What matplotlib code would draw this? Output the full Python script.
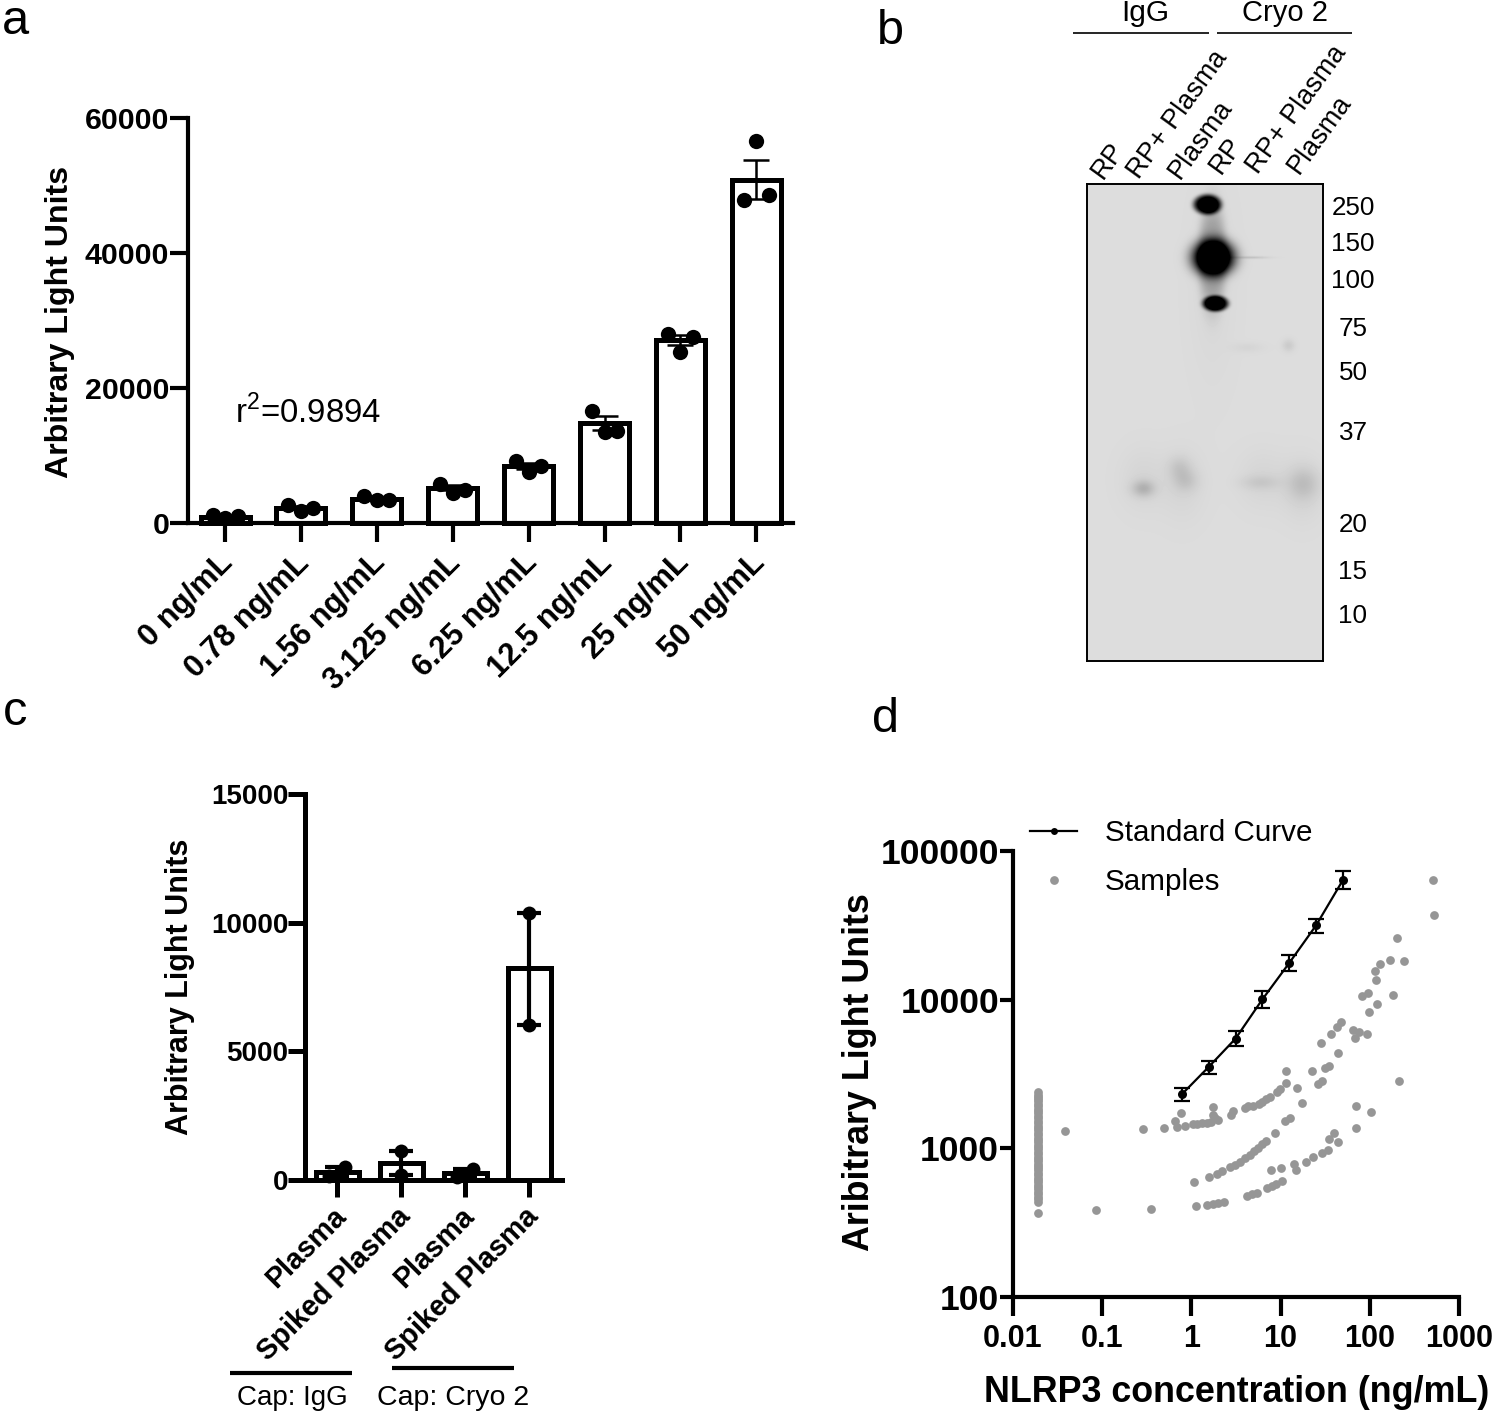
import numpy as np
import matplotlib
matplotlib.use("Agg")
import matplotlib.pyplot as plt
from matplotlib.lines import Line2D
from matplotlib.ticker import FixedLocator, NullLocator, FixedFormatter
from matplotlib.transforms import ScaledTranslation

plt.rcParams['font.family'] = ['Liberation Sans', 'DejaVu Sans']
plt.rcParams['mathtext.fontset'] = 'custom'
plt.rcParams['mathtext.rm'] = 'Liberation Sans'

W, H = 1495, 1415

# Panel a
a_labels = ['0 ng/mL', '0.78 ng/mL', '1.56 ng/mL', '3.125 ng/mL', '6.25 ng/mL', '12.5 ng/mL', '25 ng/mL', '50 ng/mL']
a_means = [890, 2270, 3600, 5190, 8450, 14820, 27070, 50880]
a_sem = [180, 250, 170, 370, 470, 1030, 740, 2900]
a_left = [1140, 2620, 3950, 5730, 9140, 16600, 27960, 47800]
a_mid = [790, 1780, 3360, 4450, 7560, 13490, 25340, 56600]
a_right = [990, 2270, 3360, 4940, 8450, 13630, 27560, 48560]
a_yticks = [0, 20000, 40000, 60000]

# Panel b
b_lanes = ['RP', 'RP+ Plasma', 'Plasma', 'RP', 'RP+ Plasma', 'Plasma']
b_groups = ['IgG', 'Cryo 2']
b_markers = ['250', '150', '100', '75', '50', '37', '20', '15', '10']
# band x, y, x-spread, y-spread, darkness, sharpness (blot pixels)
b_band_x = [120, 126, 128, 125, 163, 56, 98, 92, 173, 216, 201, 160, 125, 55, 95, 175, 215]
b_band_y = [20, 73, 119, 72, 73, 304, 296, 283, 298, 299, 161, 163, 100, 295, 300, 295, 305]
b_band_sx = [14, 21, 13, 14, 17, 11, 12, 11, 19, 15, 6, 16, 22, 22, 22, 24, 20]
b_band_sy = [10, 18, 8, 55, 1.3, 8, 11, 11, 7, 15, 6, 5, 90, 30, 35, 28, 30]
b_band_amp = [1.0, 1.3, 1.0, 0.24, 0.10, 0.15, 0.08, 0.07, 0.06, 0.09, 0.07, 0.03, 0.02, 0.03, 0.03, 0.03, 0.04]
b_band_pow = [5, 3, 5, 4, 2, 2, 2, 2, 2, 2, 2, 2, 2, 2, 2, 2, 2]

# Panel c
c_labels = ['Plasma', 'Spiked Plasma', 'Plasma', 'Spiked Plasma']
c_means = [323, 660, 272, 8226]
c_high = [505, 1115, 427, 10360]
c_low = [140, 207, 117, 6030]
c_yticks = [0, 5000, 10000, 15000]

# Panel d
d_std_conc = [0.78, 1.56, 3.125, 6.25, 12.5, 25, 50]
d_std_val = [2307, 3525, 5470, 10050, 17650, 31620, 63800]
d_std_low = [2070, 3175, 4850, 8790, 15520, 28050, 55200]
d_std_high = [2560, 3860, 6120, 11510, 19860, 35070, 72950]
d_zero_val = [2390, 2300, 2220, 2150, 2080, 2000, 1930, 1850, 1780, 1720, 1650, 1590, 1530,
              1470, 1420, 1370, 1320, 1270, 1220, 1180, 1140, 1100, 1060, 1020, 985, 950,
              915, 880, 850, 820, 790, 760, 735, 710, 685, 660, 635, 610, 590, 570, 550,
              530, 510, 490, 470, 455, 435, 369]
d_log_conc = [-1.416, -0.539, -0.307, -0.184, -0.165, -0.116, -0.071, 0.015, 0.060, 0.116, 0.172,
              0.217, 0.247, 0.247, 0.266, 0.303, 0.446, 0.468, 0.596, 0.640, 0.689, 0.753, 0.790,
              0.835, 0.876, 0.959, 0.989, 1.060, 1.064, 1.184, 1.240, 1.356, 1.416, 1.464, 1.502,
              1.547, 1.644, 1.453, 1.566, 1.633, 1.682, 1.813, 1.839, 1.876, 1.970, 1.993, 2.082,
              1.914, 1.981, 2.262, 2.075, 2.056, 2.112, 2.225, 2.386, 2.300, 2.704, 2.719, 2.322,
              1.843, 2.019, 1.843,
              0.034, 0.199, 0.285, 0.341, 0.434, 0.491, 0.547, 0.603, 0.652, 0.697, 0.742, 0.790,
              0.835, 0.940, 1.052, 1.101,
              -1.067, -0.449, 0.049, 0.180, 0.247, 0.303, 0.360, 0.622, 0.678, 0.734, 0.846, 0.903,
              0.951, 1.011, 0.888, 1.007, 1.154, 1.176, 1.285, 1.360, 1.464, 1.528, 1.539, 1.603, 1.640]
d_log_val = [3.119, 3.128, 3.139, 3.186, 3.143, 3.235, 3.152, 3.161, 3.164, 3.168, 3.173,
             3.179, 3.276, 3.222, 3.204, 3.193, 3.222, 3.251, 3.274, 3.283, 3.283, 3.298, 3.312,
             3.334, 3.348, 3.379, 3.401, 3.437, 3.522, 3.404, 3.307, 3.520, 3.435, 3.453, 3.540,
             3.556, 3.641, 3.706, 3.771, 3.816, 3.850, 3.794, 3.742, 3.783, 3.767, 3.917, 3.971,
             4.022, 4.045, 4.029, 4.135, 4.191, 4.238, 4.269, 4.262, 4.413, 4.805, 4.572, 3.455,
             3.285, 3.242, 3.137,
             2.776, 2.807, 2.825, 2.848, 2.872, 2.890, 2.908, 2.933, 2.955, 2.980, 3.004, 3.027,
             3.047, 3.103, 3.182, 3.206,
             2.585, 2.592, 2.610, 2.619, 2.628, 2.630, 2.637, 2.679, 2.691, 2.702, 2.733, 2.747,
             2.760, 2.783, 2.852, 2.865, 2.892, 2.854, 2.908, 2.939, 2.971, 2.991, 3.061, 3.103, 3.040]
d_xticks = [0.01, 0.1, 1, 10, 100, 1000]
d_xticklabels = ['0.01', '0.1', '1', '10', '100', '1000']
d_yticks = [100, 1000, 10000, 100000]
d_yticklabels = ['100', '1000', '10000', '100000']
ZERO_CONC = 0.019

fig = plt.figure(figsize=(W / 100, H / 100), dpi=100, facecolor='white')


def axes_px(left, right, top, bottom):
    return fig.add_axes([left / W, 1 - bottom / H, (right - left) / W, (bottom - top) / H])


def txt(x, y, s, **kw):
    kw.setdefault('ha', 'center')
    kw.setdefault('va', 'center')
    kw.setdefault('color', 'black')
    return fig.text(x / W, 1 - y / H, s, **kw)


def hline(x0, x1, y, lw):
    fig.add_artist(Line2D([x0 / W, x1 / W], [1 - y / H, 1 - y / H], color='black', lw=lw, solid_capstyle='butt'))


def style(ax, lw, ylen, xlen, yfs, xfs, ypad=1, xpad=4):
    for s in ['top', 'right']:
        ax.spines[s].set_visible(False)
    for s in ['left', 'bottom']:
        ax.spines[s].set_linewidth(lw)
        ax.spines[s].set_zorder(6)
    ax.tick_params(axis='y', length=ylen, width=lw, labelsize=yfs, pad=ypad)
    ax.tick_params(axis='x', length=xlen, width=lw, labelsize=xfs, pad=xpad)
    ax.patch.set_alpha(0)
    for lab in ax.get_yticklabels() + ax.get_xticklabels():
        lab.set_fontweight('bold')


def shift_xlabels(ax, dx_px):
    off = ScaledTranslation(dx_px * 0.01, 0, fig.dpi_scale_trans)
    for lab in ax.get_xticklabels():
        lab.set_transform(lab.get_transform() + off)


# ---- Panel a
ax = axes_px(188, 793, 118, 523)
sp = 75.9
ax.set_xlim((188 - 225) / sp, (793 - 225) / sp)
ax.set_ylim(0, 60000)
xa = np.arange(len(a_labels))
ax.bar(xa, a_means, width=49 / sp, facecolor='none', edgecolor='black', linewidth=3.6, zorder=2, clip_on=False)
ax.errorbar(xa, a_means, yerr=a_sem, fmt='none', ecolor='black', elinewidth=1.8, capsize=9.5, capthick=1.8, zorder=3)
off = 12.5 / sp
for dx, vals in [(-off, a_left), (0, a_mid), (off, a_right)]:
    ax.plot(xa + dx, vals, 'o', color='black', ms=11, mew=0, zorder=4, clip_on=False)
ax.set_yticks(a_yticks)
ax.set_xticks(xa)
ax.set_xticklabels(a_labels, rotation=45, ha='right', rotation_mode='anchor')
style(ax, 3, 13, 14, 21.8, 22.2, ypad=0.5)
shift_xlabels(ax, -7)
txt(308, 412, 'r$^{\\mathregular{2}}$=0.9894', fontsize=23.8)
txt(60, 322, 'Arbitrary Light Units', fontsize=23.1, fontweight='bold', rotation=90)

# ---- Panel b
ax = axes_px(1087, 1323, 184, 661)
ys, xs = np.mgrid[0:477, 0:236]
dark = np.zeros_like(xs, dtype=float)
for bx, by, sx, sy, amp, p in zip(b_band_x, b_band_y, b_band_sx, b_band_sy, b_band_amp, b_band_pow):
    dark += amp * np.exp(-(((xs - bx) / sx) ** 2 + ((ys - by) / sy) ** 2) ** (p / 2))
ax.imshow(np.clip(0.865 - dark, 0, 1), cmap='gray', vmin=0, vmax=1, aspect='auto', interpolation='bilinear')
ax.set_xticks([]); ax.set_yticks([])
for s in ax.spines.values():
    s.set_linewidth(1.4)
lane_x = [1097, 1133, 1174, 1215, 1252, 1293]
lane_y = [176, 176, 176, 171, 171, 171]
for lx, ly, s in zip(lane_x, lane_y, b_lanes):
    txt(lx, ly, s, fontsize=19.5, rotation=54, ha='left', va='center', rotation_mode='anchor')
hline(1073, 1209, 33, 1.2)
hline(1217, 1352, 33, 1.2)
txt(1145, 13, b_groups[0], fontsize=21.5)
txt(1285, 13, b_groups[1], fontsize=21)
for y, s in zip([207, 243, 280, 328, 372, 432, 524, 571, 615], b_markers):
    txt(1353, y + 1, s, fontsize=18.7)

# ---- Panel c
ax = axes_px(305, 562, 794, 1180)
sp = 64.0
ax.set_xlim((305 - 337) / sp, (562 - 337) / sp)
ax.set_ylim(0, 15000)
xc = np.arange(len(c_labels))
ax.bar(xc, c_means, width=43 / sp, facecolor='none', edgecolor='black', linewidth=3.6, zorder=2, clip_on=False)
c_err = [np.array(c_means) - np.array(c_low), np.array(c_high) - np.array(c_means)]
ax.errorbar(xc, c_means, yerr=c_err, fmt='none', ecolor='black', elinewidth=3, capsize=8.5, capthick=3, zorder=3)
c_off = [8 / sp, 0, 8 / sp, 0]
ax.plot(xc + np.array(c_off), c_high, 'o', color='black', ms=10, mew=0, zorder=4, clip_on=False)
ax.plot(xc - np.array(c_off), c_low, 'o', color='black', ms=10, mew=0, zorder=4, clip_on=False)
ax.set_yticks(c_yticks)
ax.set_xticks(xc)
ax.set_xticklabels(c_labels, rotation=45, ha='right', rotation_mode='anchor')
style(ax, 3.6, 12, 12, 20, 20.8, ypad=0)
shift_xlabels(ax, -5)
txt(180, 987, 'Arbitrary Light Units', fontsize=22, fontweight='bold', rotation=90)
hline(230, 352, 1373, 3)
hline(392, 514, 1368, 3)
txt(292, 1398, 'Cap: IgG', fontsize=20)
txt(453, 1398, 'Cap: Cryo 2', fontsize=20.5)

# ---- Panel d
ax = axes_px(1013, 1459, 851, 1297)
ax.set_xscale('log'); ax.set_yscale('log')
ax.set_xlim(0.01, 1000); ax.set_ylim(100, 100000)
sample_x = list(10 ** np.array(d_log_conc)) + [ZERO_CONC] * len(d_zero_val)
sample_y = list(10 ** np.array(d_log_val)) + d_zero_val
ax.plot(sample_x, sample_y, 'o', color='#969696', ms=6.3, mew=0, zorder=2, clip_on=False, label='Samples')
std = np.array(d_std_val)
ax.errorbar(d_std_conc, d_std_val, yerr=[std - np.array(d_std_low), np.array(d_std_high) - std], color='black',
            fmt='-', lw=1.6, elinewidth=1.6, capsize=5.5, capthick=1.6, zorder=3)
ax.plot(d_std_conc, d_std_val, 'o', color='black', ms=6.5, mew=0, zorder=4)
ax.xaxis.set_major_locator(FixedLocator(d_xticks))
ax.xaxis.set_major_formatter(FixedFormatter(d_xticklabels))
ax.xaxis.set_minor_locator(NullLocator())
ax.yaxis.set_major_locator(FixedLocator(d_yticks))
ax.yaxis.set_major_formatter(FixedFormatter(d_yticklabels))
ax.yaxis.set_minor_locator(NullLocator())
style(ax, 3, 9.5, 14, 25.5, 22, ypad=0.5, xpad=5.5)
h_std = Line2D([], [], color='black', lw=1.6, marker='o', ms=5, mew=0)
h_smp = Line2D([], [], color='#969696', lw=0, marker='o', ms=6.3, mew=0)
leg = ax.legend([h_std, h_smp], ['Standard Curve', 'Samples'], loc='upper left', frameon=False,
                bbox_to_anchor=(1030 / W, 1 - 819 / H), bbox_transform=fig.transFigure, fontsize=21.3,
                handlelength=1.6, handletextpad=0.93, labelspacing=0.72, borderaxespad=0, borderpad=0)
txt(860, 1072, 'Aribitrary Light Units', fontsize=25.8, fontweight='bold', rotation=90)
txt(1237, 1393, 'NLRP3 concentration (ng/mL)', fontsize=25.8, fontweight='bold')

# ---- Panel letters
for x, y, s in [(15, 22, 'a'), (890, 32, 'b'), (15, 712, 'c'), (886, 719, 'd')]:
    txt(x, y, s, fontsize=35)

fig.savefig('out.png', dpi=100)
